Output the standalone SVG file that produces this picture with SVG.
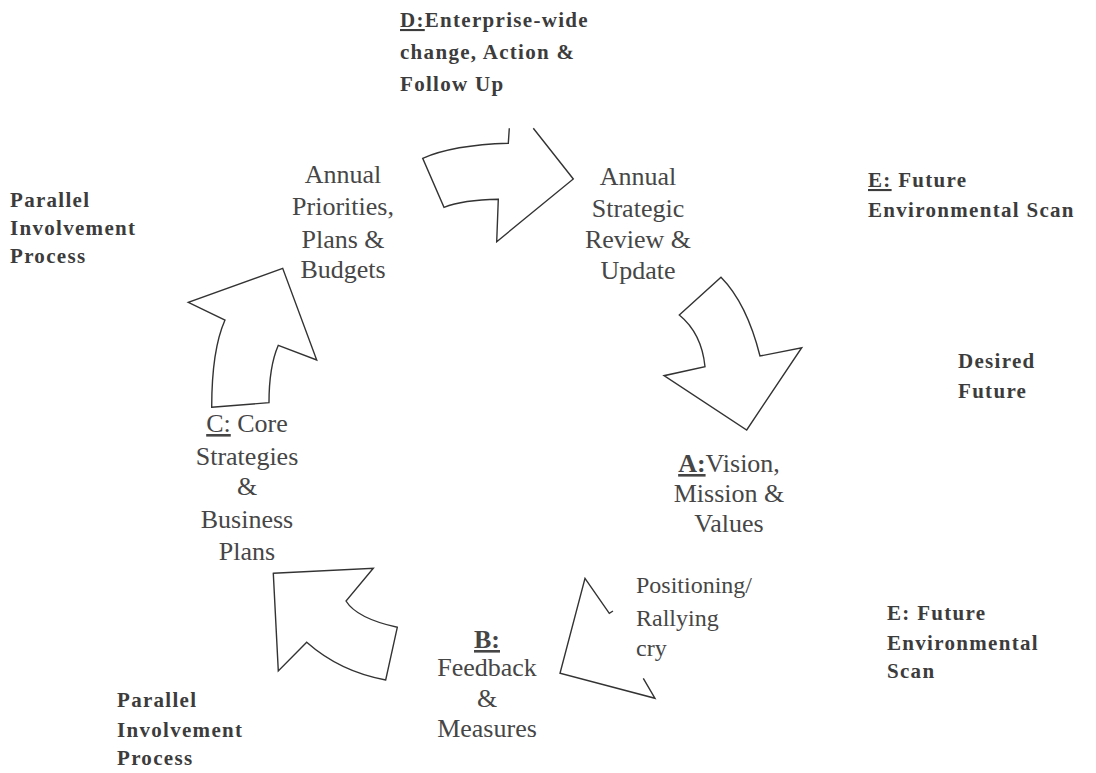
<svg xmlns="http://www.w3.org/2000/svg" width="1096" height="773" viewBox="0 0 1096 773">
<style>
.bg{fill:#ffffff}
.arrow{fill:none;stroke:#333333;stroke-width:1.4;stroke-linejoin:miter}
.lbl{font-family:"Liberation Serif","Times New Roman",serif;font-size:26px;fill:#464646;text-anchor:middle}
.small{font-family:"Liberation Serif","Times New Roman",serif;font-size:24px;fill:#464646}
.bold{font-family:"Liberation Serif","Times New Roman",serif;font-size:21px;font-weight:bold;fill:#3c3c3c;letter-spacing:1.3px}
.u{text-decoration:underline}
.b{font-weight:bold}
</style>
<rect class="bg" x="0" y="0" width="1096" height="773"/>
<g id="connectors">
  <path id="arrow-top" class="arrow" d="M509.3,128.3 L508.3,143.3 Q453,145 422.7,158.3 L444,207.3 Q463,200 498.3,199.3 L496.7,241.7 L573.3,179 L533.3,128.3"/>
  <path id="arrow-right" class="arrow" d="M679.3,315 L721,277.3 Q746.7,303.3 760,356 L801.7,347.7 L746.7,430 L664,375.7 L705,366.7 Q701.7,333.3 679.3,315 Z"/>
  <path id="arrow-bottom-right" class="arrow" d="M613,611 L609.3,613.3 L585,578.3 L560,673.3 L655,698.3 L643.3,678.3"/>
  <path id="arrow-bottom-left" class="arrow" d="M273.3,573.3 L373.3,568.3 L346,601 Q356.7,618.3 397.3,627.3 L385.7,680 Q340,671.7 306.7,642.3 L278.3,671 Z"/>
  <path id="arrow-left" class="arrow" d="M211.7,407.3 L269,402.7 Q269,366.7 278.3,345.3 L316.7,360 L282.7,268.3 L188.3,302.3 L225,320 Q211.7,350 211.7,407.3 Z"/>
</g>
<g id="node-d">
  <text class="bold" x="400" y="27"><tspan class="u">D:</tspan>Enterprise-wide</text>
  <text class="bold" x="400" y="59">change, Action &amp;</text>
  <text class="bold" x="400" y="91">Follow Up</text>
</g>
<g id="node-annual-review">
  <text class="lbl" x="638" y="185">Annual</text>
  <text class="lbl" x="638" y="216.5">Strategic</text>
  <text class="lbl" x="638" y="248">Review &amp;</text>
  <text class="lbl" x="638" y="279">Update</text>
</g>
<g id="node-annual-priorities">
  <text class="lbl" x="343" y="183">Annual</text>
  <text class="lbl" x="343" y="215">Priorities,</text>
  <text class="lbl" x="343" y="248">Plans &amp;</text>
  <text class="lbl" x="343" y="278">Budgets</text>
</g>
<g id="node-a">
  <text class="lbl" x="729" y="472"><tspan class="u b">A:</tspan>Vision,</text>
  <text class="lbl" x="729" y="502">Mission &amp;</text>
  <text class="lbl" x="729" y="532">Values</text>
</g>
<g id="node-positioning">
  <text class="small" x="636" y="593">Positioning/</text>
  <text class="small" x="636" y="626">Rallying</text>
  <text class="small" x="636" y="656">cry</text>
</g>
<g id="node-b">
  <text class="lbl" x="487" y="648"><tspan class="u b">B:</tspan></text>
  <text class="lbl" x="487" y="676">Feedback</text>
  <text class="lbl" x="487" y="707">&amp;</text>
  <text class="lbl" x="487" y="737">Measures</text>
</g>
<g id="node-c">
  <text class="lbl" x="247" y="432"><tspan class="u">C:</tspan> Core</text>
  <text class="lbl" x="247" y="465">Strategies</text>
  <text class="lbl" x="247" y="495">&amp;</text>
  <text class="lbl" x="247" y="528">Business</text>
  <text class="lbl" x="247" y="560">Plans</text>
</g>
<g id="node-parallel-top">
  <text class="bold" x="10" y="207">Parallel</text>
  <text class="bold" x="10" y="235">Involvement</text>
  <text class="bold" x="10" y="263">Process</text>
</g>
<g id="node-e-top">
  <text class="bold" x="868" y="187"><tspan class="u">E:</tspan> Future</text>
  <text class="bold" x="868" y="217">Environmental Scan</text>
</g>
<g id="node-desired">
  <text class="bold" x="958" y="368">Desired</text>
  <text class="bold" x="958" y="398">Future</text>
</g>
<g id="node-e-bottom">
  <text class="bold" x="887" y="620">E: Future</text>
  <text class="bold" x="887" y="650">Environmental</text>
  <text class="bold" x="887" y="678">Scan</text>
</g>
<g id="node-parallel-bottom">
  <text class="bold" x="117" y="707">Parallel</text>
  <text class="bold" x="117" y="737">Involvement</text>
  <text class="bold" x="117" y="765">Process</text>
</g>
</svg>
